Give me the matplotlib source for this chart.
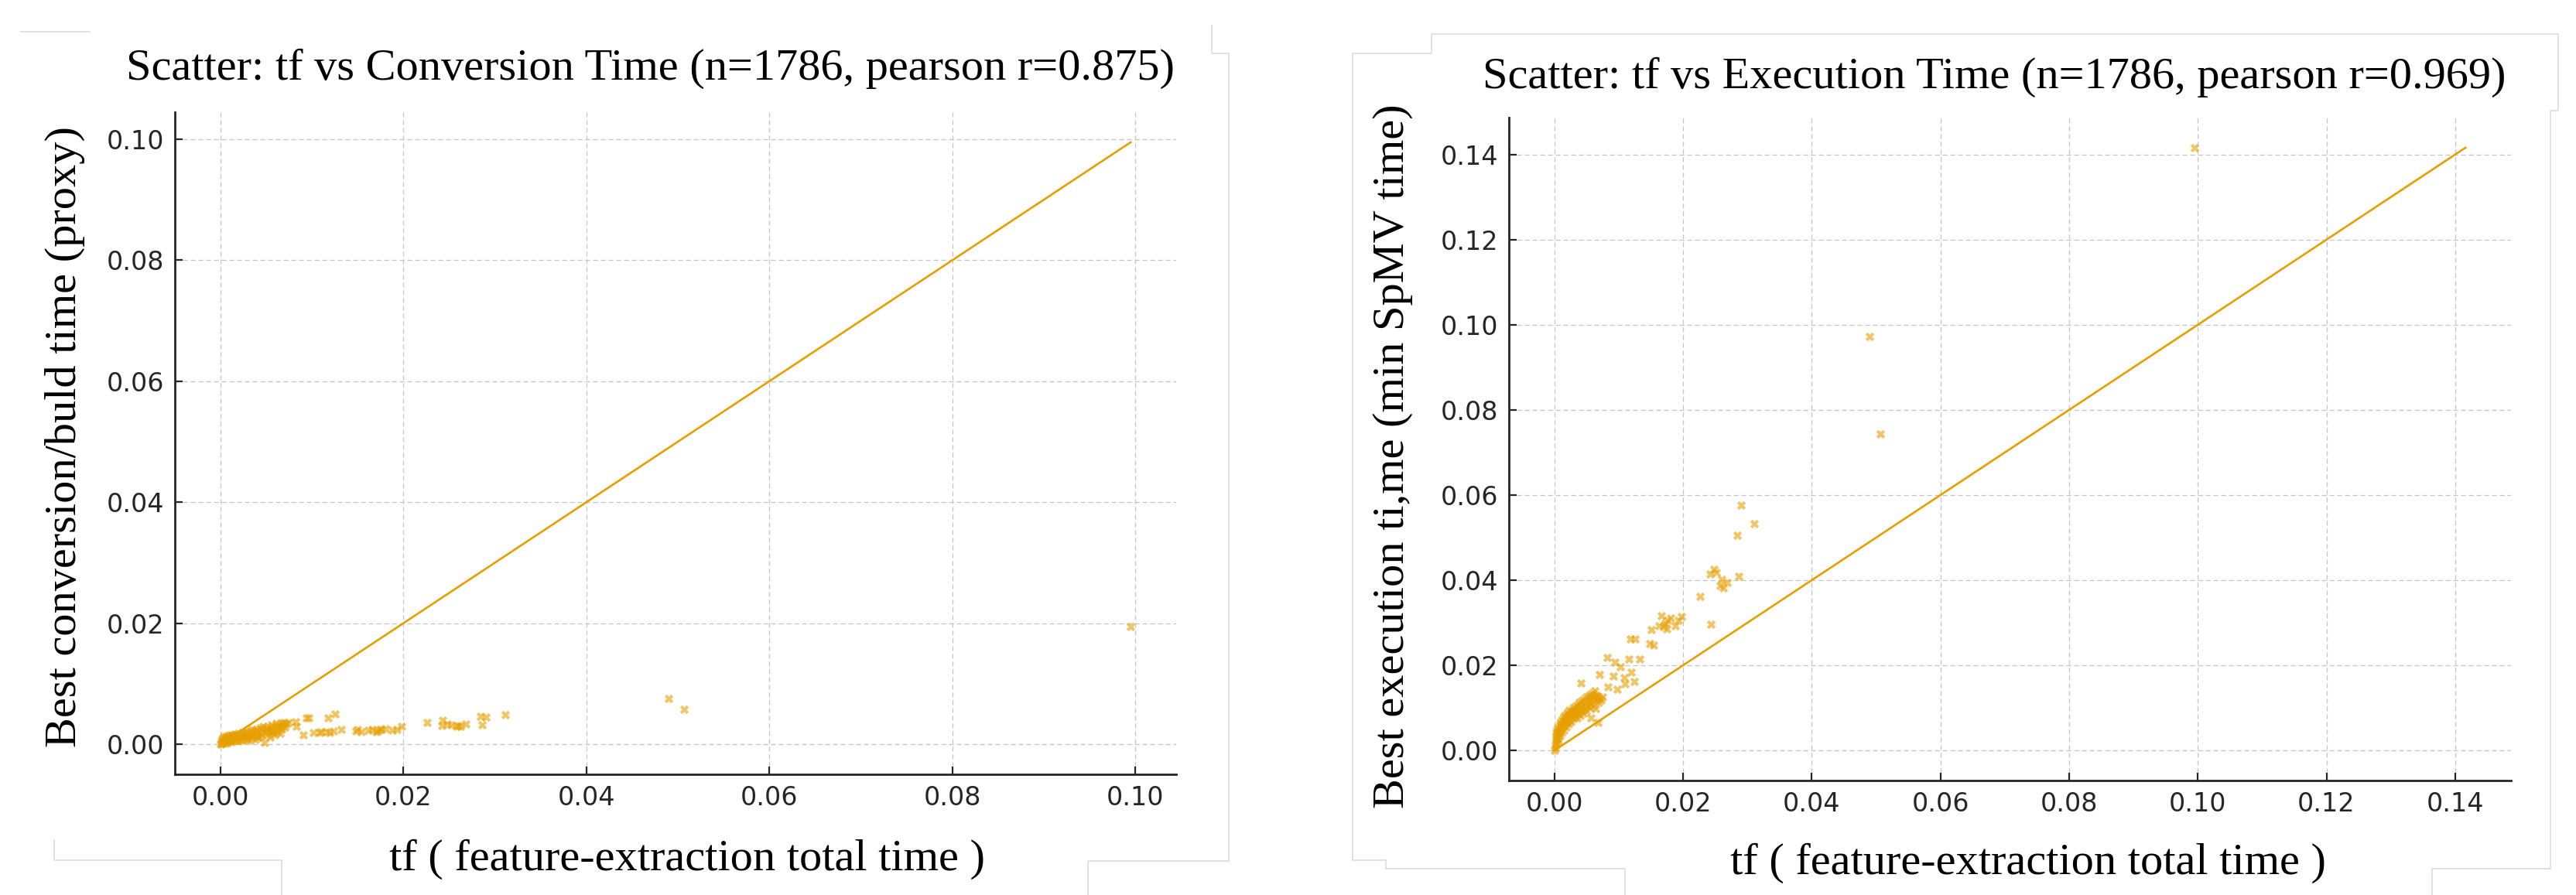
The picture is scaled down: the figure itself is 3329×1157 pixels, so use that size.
import numpy as np
import matplotlib
matplotlib.use("Agg")
import matplotlib.pyplot as plt
from matplotlib.lines import Line2D

# ---- data (subset of the 1786 matrices) ----
# tf = feature-extraction total time, conv = best conversion/build time, exe = best execution time
tf = [
    0.0000, 0.0001, 0.0001, 0.0002, 0.0002, 0.0003, 0.0003, 0.0004, 0.0004, 0.0005,
    0.0005, 0.0006, 0.0006, 0.0007, 0.0008, 0.0008, 0.0009, 0.0010, 0.0010, 0.0011,
    0.0012, 0.0012, 0.0013, 0.0014, 0.0015, 0.0015, 0.0016, 0.0017, 0.0018, 0.0019,
    0.0020, 0.0020, 0.0021, 0.0022, 0.0023, 0.0023, 0.0024, 0.0025, 0.0026, 0.0027,
    0.0028, 0.0029, 0.0030, 0.0030, 0.0031, 0.0032, 0.0033, 0.0034, 0.0035, 0.0035,
    0.0036, 0.0037, 0.0038, 0.0039, 0.0040, 0.0041, 0.0042, 0.0043, 0.0044, 0.0045,
    0.0046, 0.0047, 0.0048, 0.0049, 0.0050, 0.0051, 0.0052, 0.0053, 0.0054, 0.0055,
    0.0056, 0.0057, 0.0058, 0.0059, 0.0060, 0.0061, 0.0062, 0.0063, 0.0064, 0.0065,
    0.0066, 0.0067, 0.0068, 0.0069, 0.0070, 0.0072, 0.0075, 0.0057,
    # scattered points
    0.0125, 0.0118, 0.0132, 0.0116, 0.0082, 0.0094, 0.0102, 0.0119, 0.0108, 0.0124,
    0.0110, 0.0091, 0.0097, 0.0070, 0.0041, 0.0083,
    0.0198, 0.0193, 0.0166, 0.0172, 0.0176, 0.0180, 0.0170, 0.0162, 0.0188, 0.0150,
    0.0148, 0.0154, 0.0174,
    0.0226, 0.0243, 0.0248, 0.0242, 0.0252, 0.0260, 0.0258, 0.0262, 0.0268,
    0.0311, 0.0290, 0.0284, 0.0286,
    0.0490, 0.0507, 0.0995,
]
conv = [
    0.0000, 0.0002, 0.0005, 0.0001, 0.0008, 0.0003, 0.0010, 0.0006, 0.0013, 0.0002,
    0.0009, 0.0004, 0.0012, 0.0007, 0.0003, 0.0014, 0.0010, 0.0005, 0.0015, 0.0008,
    0.0012, 0.0004, 0.0016, 0.0009, 0.0006, 0.0013, 0.0017, 0.0007, 0.0011, 0.0015,
    0.0005, 0.0018, 0.0009, 0.0013, 0.0016, 0.0007, 0.0019, 0.0011, 0.0014, 0.0020,
    0.0008, 0.0017, 0.0012, 0.0021, 0.0006, 0.0015, 0.0022, 0.0010, 0.0018, 0.0024,
    0.0013, 0.0020, 0.0008, 0.0025, 0.0016, 0.0022, 0.0011, 0.0027, 0.0018, 0.0014,
    0.0024, 0.0029, 0.0003, 0.0020, 0.0026, 0.0016, 0.0030, 0.0022, 0.0011, 0.0027,
    0.0032, 0.0019, 0.0025, 0.0015, 0.0029, 0.0034, 0.0021, 0.0027, 0.0031, 0.0018,
    0.0035, 0.0024, 0.0030, 0.0036, 0.0028, 0.0033, 0.0036, 0.0021,
    0.0050, 0.0044, 0.0024, 0.0021, 0.0037, 0.0043, 0.0019, 0.0019, 0.0019, 0.0022,
    0.0020, 0.0015, 0.0043, 0.0034, 0.0012, 0.0030,
    0.0029, 0.0025, 0.0024, 0.0022, 0.0025, 0.0026, 0.0021, 0.0023, 0.0023, 0.0025,
    0.0022, 0.0021, 0.0024,
    0.0036, 0.0040, 0.0033, 0.0031, 0.0032, 0.0031, 0.0030, 0.0029, 0.0033,
    0.0049, 0.0045, 0.0046, 0.0032,
    0.0075, 0.0058, 0.0195,
]
exe = [
    0.0000, 0.0005, 0.0012, 0.0020, 0.0028, 0.0035, 0.0042, 0.0048, 0.0016, 0.0030,
    0.0052, 0.0040, 0.0024, 0.0045, 0.0058, 0.0035, 0.0062, 0.0050, 0.0068, 0.0041,
    0.0072, 0.0056, 0.0064, 0.0078, 0.0047, 0.0060, 0.0082, 0.0070, 0.0055, 0.0086,
    0.0066, 0.0076, 0.0090, 0.0062, 0.0080, 0.0094, 0.0071, 0.0085, 0.0068, 0.0092,
    0.0078, 0.0100, 0.0087, 0.0074, 0.0095, 0.0082, 0.0104, 0.0090, 0.0077, 0.0098,
    0.0108, 0.0086, 0.0095, 0.0112, 0.0081, 0.0101, 0.0116, 0.0092, 0.0106, 0.0088,
    0.0120, 0.0098, 0.0110, 0.0125, 0.0093, 0.0115, 0.0104, 0.0128, 0.0119, 0.0100,
    0.0131, 0.0110, 0.0122, 0.0135, 0.0105, 0.0126, 0.0116, 0.0140, 0.0098, 0.0130,
    0.0120, 0.0065, 0.0128, 0.0112, 0.0122, 0.0118, 0.0126, 0.0076,
    0.0262, 0.0262, 0.0214, 0.0214, 0.0219, 0.0208, 0.0196, 0.0184, 0.0171, 0.0162,
    0.0156, 0.0175, 0.0144, 0.0179, 0.0158, 0.0150,
    0.0314, 0.0305, 0.0317, 0.0299, 0.0305, 0.0311, 0.0290, 0.0293, 0.0293, 0.0284,
    0.0250, 0.0247, 0.0285,
    0.0362, 0.0296, 0.0425, 0.0414, 0.0418, 0.0402, 0.0387, 0.0381, 0.0395,
    0.0533, 0.0576, 0.0506, 0.0409,
    0.0973, 0.0743, 0.1416,
]

titles = ["Scatter: tf vs Conversion Time (n=1786, pearson r=0.875)",
          "Scatter: tf vs Execution Time (n=1786, pearson r=0.969)"]
ylabels = ["Best conversion/buld time (proxy)",
           "Best execution ti,me (min SpMV time)"]
xlabel = "tf ( feature-extraction total time )"

ORANGE = "#E69F00"
SERIF = "Liberation Serif"

W, H = 3329, 1157
fig = plt.figure(figsize=(W / 100, H / 100), dpi=100)


def px(x, y):
    # pixel position (from top-left) -> figure fraction
    return x / W, 1 - y / H


def style_axes(ax):
    for side in ("top", "right"):
        ax.spines[side].set_visible(False)
    for side in ("left", "bottom"):
        ax.spines[side].set_linewidth(2.0)
        ax.spines[side].set_color("#262626")
    ax.tick_params(direction="in", length=7, width=1.6, pad=10,
                   labelsize=24, colors="#262626")
    ax.grid(True, color="#c4c4c4", linewidth=0.9, linestyle=(0, (5, 3)))
    ax.set_axisbelow(True)


# panel positions in pixels: left, top, right, bottom
boxes = [(226, 145, 1520, 1001), (1950, 152, 3245, 1009)]
yvals = [conv, exe]
ticks = [np.arange(0, 0.101, 0.02), np.arange(0, 0.141, 0.02)]

# text anchors (pixels)
title_pos = [(840, 103), (2577, 114)]
xlab_pos = [(888, 1125), (2621, 1130)]
ylab_pos = [(84, 564), (1800, 590)]

x = np.array(tf)
for i in range(2):
    l, t, r, b = boxes[i]
    ax = fig.add_axes([l / W, 1 - b / H, (r - l) / W, (b - t) / H])
    y = np.array(yvals[i])
    ax.scatter(x, y, marker="X", s=68, color=ORANGE, alpha=0.6, linewidths=0, zorder=3)
    hi = max(x.max(), y.max())
    ax.plot([0, hi], [0, hi], color=ORANGE, linewidth=1.9, zorder=4)
    ax.set_xticks(ticks[i])
    ax.set_yticks(ticks[i])
    ax.xaxis.set_major_formatter(matplotlib.ticker.FormatStrFormatter("%.2f"))
    ax.yaxis.set_major_formatter(matplotlib.ticker.FormatStrFormatter("%.2f"))
    style_axes(ax)

    fx, fy = px(*title_pos[i])
    fig.text(fx, fy, titles[i], family=SERIF, fontsize=42, ha="center", va="baseline")
    fx, fy = px(*xlab_pos[i])
    fig.text(fx, fy, xlabel, family=SERIF, fontsize=42, ha="center", va="baseline")
    fx, fy = px(*ylab_pos[i])
    fig.text(fx, fy, ylabels[i], family=SERIF, fontsize=42, ha="center", va="center",
             rotation=90)

# faint frames left over from the two pasted screenshots
frames = [
    [(27, 41), (116, 41)],
    [(1566, 33), (1566, 69), (1588, 69), (1588, 1113), (1406, 1113), (1406, 1157)],
    [(70, 1086), (70, 1112), (364, 1112), (364, 1157)],
    [(1748, 1112), (1748, 69), (1850, 69), (1850, 44), (3306, 44), (3306, 143),
     (3296, 143), (3296, 1123), (3143, 1123), (3143, 1157)],
    [(1748, 1112), (1791, 1112), (1791, 1123), (2100, 1123), (2100, 1157)],
]
for seg in frames:
    xs = [p[0] / W for p in seg]
    ys = [1 - p[1] / H for p in seg]
    fig.add_artist(Line2D(xs, ys, transform=fig.transFigure, color="#d9d9d9",
                          linewidth=1.1))

fig.savefig("out.png", dpi=100)
